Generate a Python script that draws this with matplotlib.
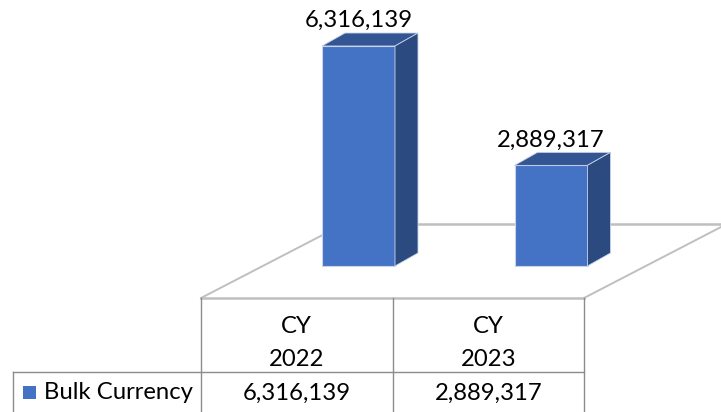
import matplotlib
matplotlib.use('Agg')
import matplotlib.pyplot as plt
from matplotlib.patches import Polygon, Rectangle

categories = ['CY\n2022', 'CY\n2023']
values = [6316139, 2889317]
value_labels = ['6,316,139', '2,889,317']
series_name = 'Bulk Currency'

plt.rcParams['font.family'] = ['Lato', 'DejaVu Sans']

W, H = 721, 412
fig = plt.figure(figsize=(W / 100, H / 100), dpi=100)
ax = fig.add_axes([0, 0, 1, 1])
ax.set_xlim(0, W)
ax.set_ylim(H, 0)
ax.axis('off')

# layout in pixels
table_left = 201
col_w = 191.5
floor_y = 298
back_y = 224
base_y = 266
bar_left = 322
bar_step = 192.5
bar_w = 73
dx, dy = 23, 13
px_per_unit = 220 / values[0]
fs = 17.2

c_front = '#4472c4'
c_top = '#335593'
c_side = '#2a4a80'
c_edge = '#c9d4ea'
c_floor = '#bfbfbf'
c_grid = '#8c8c8c'

# floor
ax.plot([table_left, table_left + 2 * col_w], [floor_y, floor_y], color=c_floor, lw=1.8, zorder=1)
ax.plot([table_left, table_left + (floor_y - back_y) * 1.93], [floor_y, back_y], color=c_floor, lw=1.4, zorder=1)
ax.plot([table_left + 2 * col_w, table_left + 2 * col_w + (floor_y - back_y) * 1.93], [floor_y, back_y],
        color=c_floor, lw=1.4, zorder=1)
ax.plot([table_left + (floor_y - back_y) * 1.93, W], [back_y, back_y], color=c_floor, lw=1.8, zorder=1)

# bars
for i, (v, lab) in enumerate(zip(values, value_labels)):
    x0 = bar_left + bar_step * i
    top = base_y - v * px_per_unit
    x1 = x0 + bar_w
    ax.add_patch(Rectangle((x0, top), bar_w, base_y - top, fc=c_front, ec=c_edge, lw=0.8, zorder=3))
    ax.add_patch(Polygon([(x0, top), (x0 + dx, top - dy), (x1 + dx, top - dy), (x1, top)],
                         fc=c_top, ec=c_edge, lw=0.6, zorder=3))
    ax.add_patch(Polygon([(x1, top), (x1 + dx, top - dy), (x1 + dx, base_y - dy), (x1, base_y)],
                         fc=c_side, ec=c_edge, lw=0.6, zorder=3))
    ax.text(x0 + bar_w / 2, top - 25.5, lab, ha='center', va='center', fontsize=fs, color='black', zorder=4)

# data table
row_y = 372
for k in range(3):
    x = table_left + col_w * k
    ax.plot([x, x], [floor_y, H], color=c_grid, lw=1.0, zorder=2)
ax.plot([13, table_left + 2 * col_w], [row_y, row_y], color=c_grid, lw=1.0, zorder=2)
ax.plot([13, 13], [row_y, H], color=c_grid, lw=1.0, zorder=2)

for i, (cat, lab) in enumerate(zip(categories, value_labels)):
    xc = table_left + col_w * (i + 0.5)
    ax.text(xc, 343, cat, ha='center', va='center', fontsize=fs, linespacing=1.65, color='black')
    ax.text(xc, 393, lab, ha='center', va='center', fontsize=fs, color='black')

ax.add_patch(Rectangle((23, 386), 13, 13, fc=c_front, ec='none'))
ax.text(44, 392.5, series_name, ha='left', va='center', fontsize=fs, color='black')

fig.savefig('out.png', dpi=100)
